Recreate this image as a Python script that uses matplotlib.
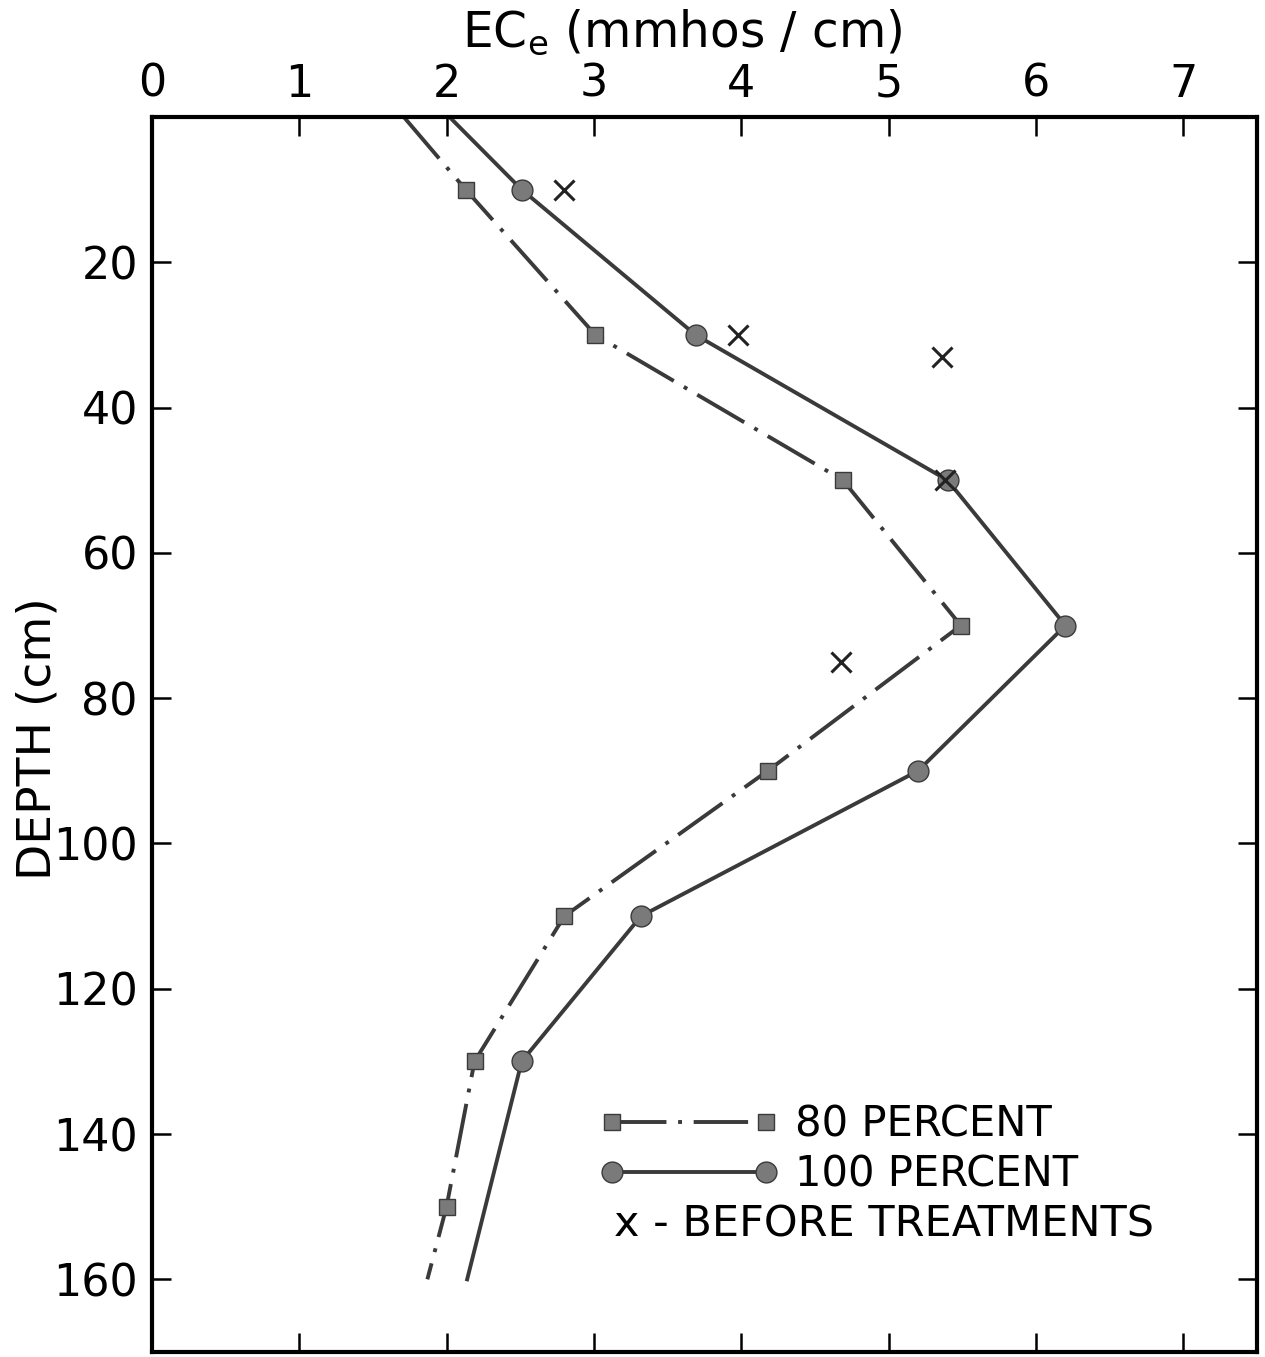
import numpy as np
import matplotlib
matplotlib.use('Agg')
import matplotlib.pyplot as plt
from matplotlib.lines import Line2D

# EC_e profiles (mmhos/cm) against depth (cm)
depth_80 = [0, 10, 30, 50, 70, 90, 110, 130, 150, 160]
ec_80 = [1.71, 2.13, 3.01, 4.69, 5.49, 4.18, 2.80, 2.19, 2.00, 1.87]
depth_100 = [0, 10, 30, 50, 70, 90, 110, 130, 160]
ec_100 = [2.02, 2.51, 3.69, 5.40, 6.20, 5.20, 3.32, 2.51, 2.14]
depth_before = [10, 30, 33, 50, 75]
ec_before = [2.80, 3.98, 5.36, 5.38, 4.68]

xticks = [0, 1, 2, 3, 4, 5, 6, 7]
yticks = [20, 40, 60, 80, 100, 120, 140, 160]

plt.rcParams['font.family'] = ['DejaVu Sans']
line_col = '#3a3a3a'
mark_face = '#7a7a7a'

fig = plt.figure(figsize=(12.65, 13.57), dpi=100)
ax = fig.add_axes([0.120, 0.0037, 0.8737, 0.9101])

# plot profiles
ax.plot(ec_80, depth_80, color=line_col, lw=2.8, dashes=(14, 3, 1, 3),
        marker='s', markersize=12, markerfacecolor=mark_face,
        markeredgecolor=line_col, markevery=list(range(1, 9)))
ax.plot(ec_100, depth_100, color=line_col, lw=2.8,
        marker='o', markersize=15, markerfacecolor=mark_face,
        markeredgecolor=line_col, markevery=list(range(1, 8)))
ax.plot(ec_before, depth_before, linestyle='none', marker='x',
        markersize=14, markeredgewidth=2.2, color='#222222')

# axes setup
ax.set_xlim(0, 7.5)
ax.set_ylim(170, 0)
ax.set_xticks(xticks)
ax.set_yticks(yticks)
ax.xaxis.tick_top()
ax.tick_params(axis='both', which='both', direction='in', length=14,
               width=1.8, labelsize=32, top=True, bottom=True,
               left=True, right=True, labelbottom=False, labeltop=True,
               labelleft=True, labelright=False)
ax.tick_params(axis='x', pad=8)
ax.tick_params(axis='y', pad=10)
for s in ax.spines.values():
    s.set_linewidth(3)
ax.xaxis.set_label_position('top')
ax.set_xlabel(r'EC$_\mathregular{e}$ (mmhos / cm)', fontsize=35)
ax.xaxis.set_label_coords(0.48, 1.057)
ax.set_ylabel('DEPTH (cm)', fontsize=34)
ax.yaxis.set_label_coords(-0.083, 0.497)

# legend
handles = [
    Line2D([], [], color=line_col, lw=2.8, dashes=(14, 3, 1, 3), marker='s',
           markersize=12, markerfacecolor=mark_face, markeredgecolor=line_col),
    Line2D([], [], color=line_col, lw=2.8, marker='o', markersize=15,
           markerfacecolor=mark_face, markeredgecolor=line_col),
]
ax.legend(handles, ['80 PERCENT', '100 PERCENT'], loc='upper left',
          bbox_to_anchor=(0.405, 0.201), frameon=False, fontsize=30,
          numpoints=2, handlelength=4.3, handletextpad=0.4,
          labelspacing=0.18, borderaxespad=0, borderpad=0)
ax.text(0.418, 0.103, 'x - BEFORE TREATMENTS', transform=ax.transAxes,
        fontsize=31, ha='left', va='center')

fig.savefig('out.png', dpi=100)
